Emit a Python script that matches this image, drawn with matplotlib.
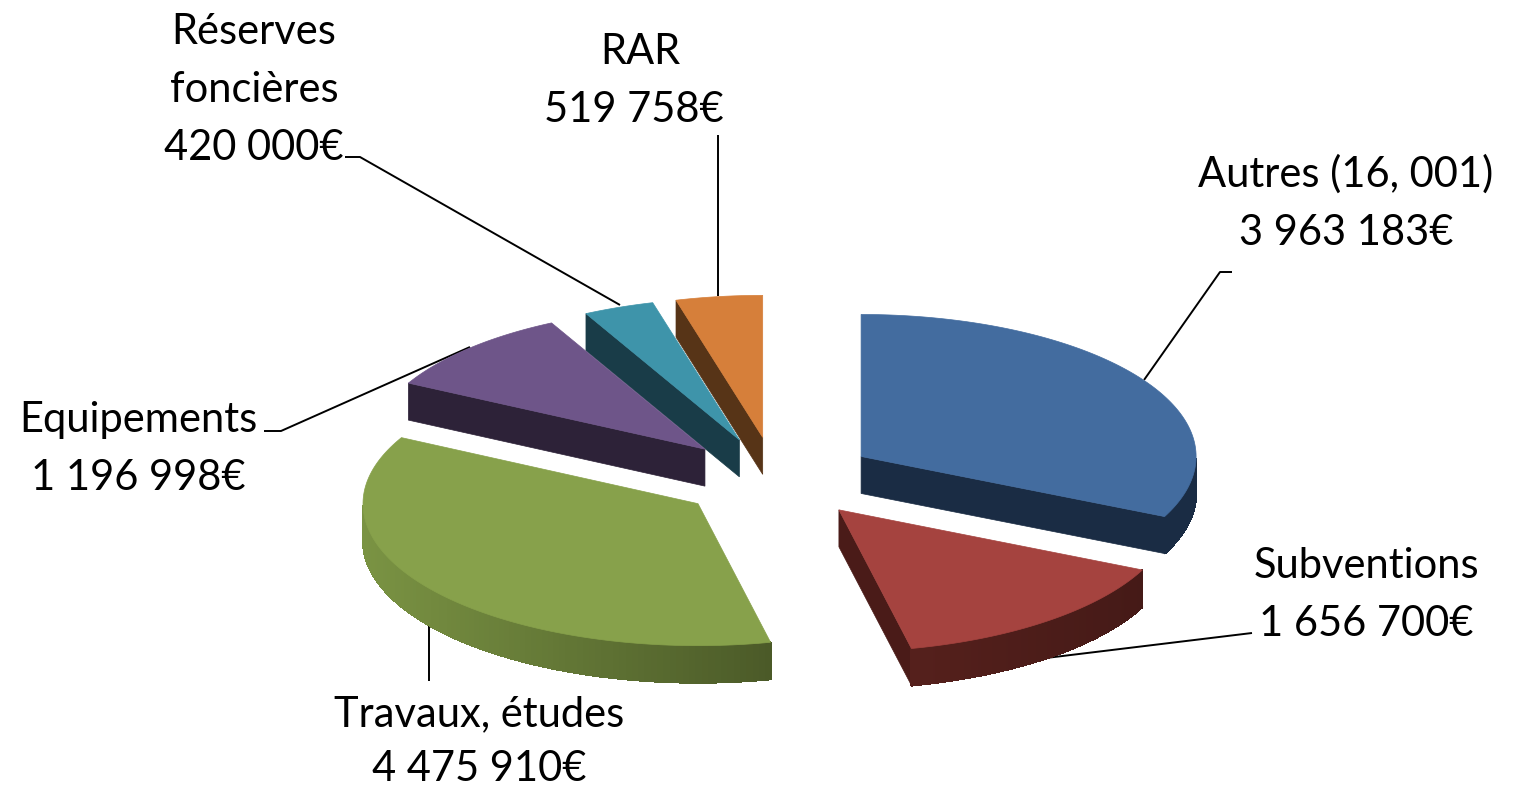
import numpy as np
import matplotlib
matplotlib.use('Agg')
import matplotlib.pyplot as plt

plt.rcParams['font.family'] = ['Lato', 'DejaVu Sans']

# values, clockwise from 12 o'clock
names = ['Autres (16, 001)', 'Subventions', 'Travaux, études', 'Equipements', 'Réserves\nfoncières', 'RAR']
values = [3963183, 1656700, 4475910, 1196998, 420000, 519758]
amounts = ['3 963 183€', '1 656 700€', '4 475 910€', '1 196 998€', '420 000€', '519 758€']

top_colors = ['#436c9f', '#a5433f', '#87a14b', '#6e5589', '#3e94aa', '#d67f3a']
face_colors = ['#1a2c44', '#4a1b18', '#5f7533', '#2d2238', '#193c48', '#573417']
# outer wall colour at left and right end of the slice
wall_left = ['#1a2c44', '#55201c', '#7a9343', '#2d2238', '#193c48', '#573417']
wall_right = ['#1a2c44', '#451a17', '#4b5a28', '#2d2238', '#193c48', '#573417']
draw_order = [5, 4, 3, 0, 2, 1]

# geometry in image pixels
cx, cy = 776, 478
rx, ry = 335, 142
depth = 37
shift_x, shift_y = 100, 41

# the 3d view moves the slice borders a little (degrees)
view_in = [0, 116.6, 165.4, 297.1, 332.3, 344.7, 360]
view_out = [0, 115.0, 167.5, 297.7, 332.7, 345.0, 360]

# label centre x, baseline y of the last line, line step
label_pos = [(1346, 245, 58), (1366, 636, 58), (479, 781, 55), (138, 490, 58), (254, 160, 58), (634, 122, 58)]
leaders = [
    ([1232, 1220, 1144], [272, 272, 380]),
    ([1252, 1046], [633, 658]),
    ([429, 429], [625, 681]),
    ([264, 281, 470], [431, 431, 347]),
    ([345, 360, 620], [157, 157, 305]),
    ([718, 718], [135, 296]),
]


def mix(c1, c2, f):
    c1 = np.array(matplotlib.colors.to_rgb(c1))
    c2 = np.array(matplotlib.colors.to_rgb(c2))
    return c1 + (c2 - c1) * f


fig = plt.figure(figsize=(15.18, 7.87), dpi=100)
ax = fig.add_axes([0, 0, 1, 1])
ax.set_xlim(0, 1518)
ax.set_ylim(787, 0)
ax.axis('off')

angles = np.concatenate([[0], np.cumsum(values)]) / np.sum(values) * 360.0

for i in draw_order:
    mid = np.radians((angles[i] + angles[i + 1]) / 2)
    x0 = cx + shift_x * np.sin(mid)
    y0 = cy - shift_y * np.cos(mid)
    a0 = np.radians(np.interp(angles[i], view_in, view_out))
    a1 = np.radians(np.interp(angles[i + 1], view_in, view_out))
    t = np.linspace(a0, a1, 120)
    xs = x0 + rx * np.sin(t)
    ys = y0 - ry * np.cos(t)

    # radial faces, only the ones turned towards the viewer
    for k, a in enumerate([a0, a1]):
        ex = x0 + rx * np.sin(a)
        ey = y0 - ry * np.cos(a)
        if (k == 0 and np.sin(a) < 0) or (k == 1 and np.sin(a) > 0):
            ax.fill([x0, ex, ex, x0], [y0, ey, ey + depth, y0 + depth],
                    color=face_colors[i], lw=0.5, zorder=2)

    # outer wall, lower half of the ellipse only
    vis = np.where(np.cos(t) <= 0)[0]
    if vis.size > 1:
        xmin, xmax = xs[vis].min(), xs[vis].max()
        for j in range(vis[0], vis[-1]):
            f = ((xs[j] + xs[j + 1]) / 2 - xmin) / (xmax - xmin)
            col = mix(wall_left[i], wall_right[i], f)
            ax.fill([xs[j], xs[j + 1], xs[j + 1], xs[j]],
                    [ys[j], ys[j + 1], ys[j + 1] + depth, ys[j] + depth],
                    color=col, lw=0.8, antialiased=False, zorder=2)
            ax.plot([xs[j], xs[j + 1]], [ys[j] + depth, ys[j + 1] + depth],
                    color=col, lw=0.8, zorder=2)

    ax.fill(np.r_[x0, xs], np.r_[y0, ys], color=top_colors[i], lw=0.5, zorder=2)

for (lx, ly) in leaders:
    ax.plot(lx, ly, color='black', lw=1.4, zorder=1, solid_capstyle='butt')

for name, amount, (tx, ty, step) in zip(names, amounts, label_pos):
    lines = (name + '\n' + amount).split('\n')
    for k, line in enumerate(lines):
        lx = tx
        if line == 'RAR':
            lx = tx + 6
        ax.text(lx, ty - step * (len(lines) - 1 - k), line, ha='center', va='baseline',
                fontsize=30, color='black', zorder=3)

fig.savefig('out.png', dpi=100)
